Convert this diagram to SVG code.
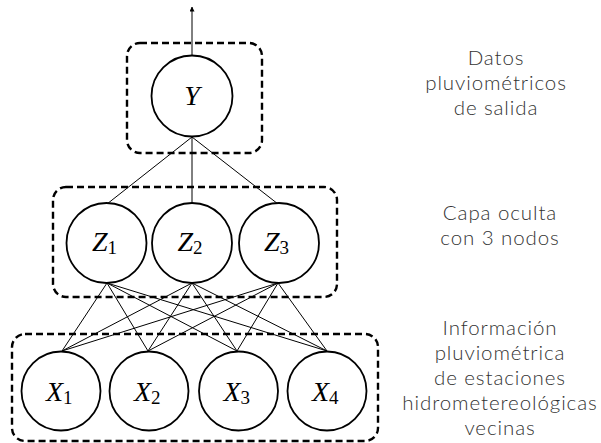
<svg xmlns="http://www.w3.org/2000/svg" width="601" height="443" viewBox="0 0 601 443">
<style>
.box{fill:none;stroke:#000;stroke-width:2.4;stroke-dasharray:7 4}
.node{fill:#fff;stroke:#000;stroke-width:1.8}
.lbl{font-family:"Liberation Serif",serif;font-style:italic;font-size:28px;fill:#000}
.sub{font-family:"Liberation Serif",serif;font-style:normal;font-size:19px}
.edge{stroke:#000;stroke-width:1;fill:none}
.side{font-family:Lato,"Open Sans",sans-serif;font-weight:300;font-size:20.5px;letter-spacing:0.9px;fill:#333;text-anchor:middle}
</style>
<defs>
<marker id="ah" viewBox="0 0 10 10" refX="9" refY="5" markerWidth="5" markerHeight="5" orient="auto" markerUnits="userSpaceOnUse">
<path d="M0,0 L10,5 L0,10 z" fill="#000"/>
</marker>
</defs>
<g id="groups">
<rect id="box-output" class="box" x="127" y="43" width="135" height="110" rx="13"/>
<rect id="box-hidden" class="box" x="53" y="187" width="284" height="110" rx="13"/>
<rect id="box-input" class="box" x="12" y="334" width="366" height="107" rx="13"/>
</g>
<g id="connectors">
<line class="edge" x1="192" y1="55" x2="192" y2="7" marker-end="url(#ah)"/>
<line class="edge" x1="192" y1="137" x2="107" y2="204"/>
<line class="edge" x1="192" y1="137" x2="192" y2="204"/>
<line class="edge" x1="192" y1="137" x2="278" y2="204"/>
<line class="edge" x1="107" y1="283" x2="62" y2="351"/>
<line class="edge" x1="107" y1="283" x2="148" y2="351"/>
<line class="edge" x1="107" y1="283" x2="237" y2="351"/>
<line class="edge" x1="107" y1="283" x2="327" y2="351"/>
<line class="edge" x1="192" y1="283" x2="62" y2="351"/>
<line class="edge" x1="192" y1="283" x2="148" y2="351"/>
<line class="edge" x1="192" y1="283" x2="237" y2="351"/>
<line class="edge" x1="192" y1="283" x2="327" y2="351"/>
<line class="edge" x1="278" y1="283" x2="62" y2="351"/>
<line class="edge" x1="278" y1="283" x2="148" y2="351"/>
<line class="edge" x1="278" y1="283" x2="237" y2="351"/>
<line class="edge" x1="278" y1="283" x2="327" y2="351"/>
</g>
<g id="node-Y">
<circle class="node" cx="192" cy="96" r="40.5"/>
<text class="lbl" x="192" y="105" text-anchor="middle">Y</text>
</g>
<g id="node-Z1">
<circle class="node" cx="106.5" cy="243" r="40"/>
<text class="lbl" x="92" y="251">Z<tspan class="sub" dy="3">1</tspan></text>
</g>
<g id="node-Z2">
<circle class="node" cx="192" cy="243" r="40"/>
<text class="lbl" x="177.5" y="251">Z<tspan class="sub" dy="3">2</tspan></text>
</g>
<g id="node-Z3">
<circle class="node" cx="279" cy="243" r="40"/>
<text class="lbl" x="264" y="251">Z<tspan class="sub" dy="3">3</tspan></text>
</g>
<g id="node-X1">
<circle class="node" cx="61" cy="391" r="39.5"/>
<text class="lbl" x="46" y="401">X<tspan class="sub" dy="3">1</tspan></text>
</g>
<g id="node-X2">
<circle class="node" cx="149" cy="391" r="39.5"/>
<text class="lbl" x="134" y="401">X<tspan class="sub" dy="3">2</tspan></text>
</g>
<g id="node-X3">
<circle class="node" cx="238.5" cy="391" r="39.5"/>
<text class="lbl" x="223.5" y="401">X<tspan class="sub" dy="3">3</tspan></text>
</g>
<g id="node-X4">
<circle class="node" cx="327" cy="391" r="39.5"/>
<text class="lbl" x="312" y="401">X<tspan class="sub" dy="3">4</tspan></text>
</g>
<g id="labels">
<text class="side" x="496" y="65">Datos</text>
<text class="side" x="496" y="90">pluviométricos</text>
<text class="side" x="496" y="115">de salida</text>
<text class="side" x="500" y="220">Capa oculta</text>
<text class="side" x="500" y="245">con 3 nodos</text>
<text class="side" x="500" y="335">Información</text>
<text class="side" x="500" y="360">pluviométrica</text>
<text class="side" x="500" y="385">de estaciones</text>
<text class="side" x="500" y="410">hidrometereológicas</text>
<text class="side" x="500" y="435">vecinas</text>
</g>
</svg>
